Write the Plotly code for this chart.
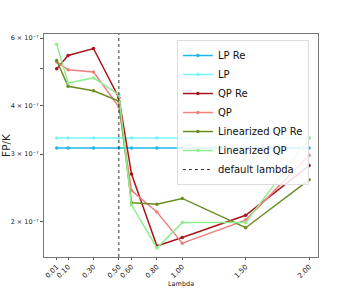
import plotly.graph_objects as go

lambdas = [0.01, 0.1, 0.3, 0.5, 0.6, 0.8, 1.0, 1.5, 2.0]
x_tick_labels = ["0.01", "0.10", "0.30", "0.50", "0.60", "0.80", "1.00", "1.50", "2.00"]

lp_re = [3.11e-7] * 9
lp = [3.30e-7] * 9
qp_re = [5.00e-7, 5.41e-7, 5.64e-7, 4.20e-7, 2.66e-7, 1.73e-7, 1.82e-7, 2.08e-7, 2.80e-7]
qp = [5.20e-7, 4.97e-7, 4.90e-7, 3.98e-7, 2.41e-7, 2.12e-7, 1.76e-7, 2.02e-7, 2.98e-7]
lin_qp_re = [5.25e-7, 4.50e-7, 4.38e-7, 4.12e-7, 2.24e-7, 2.22e-7, 2.30e-7, 1.93e-7, 2.57e-7]
lin_qp = [5.79e-7, 4.59e-7, 4.73e-7, 4.28e-7, 2.21e-7, 1.71e-7, 1.99e-7, 1.99e-7, 3.30e-7]
default_lambda = 0.5

y_tick_vals = [2e-7, 3e-7, 4e-7, 5e-7, 6e-7]
y_tick_text = ["2 × 10⁻⁷", "3 × 10⁻⁷", "4 × 10⁻⁷", "", "6 × 10⁻⁷"]

series = [
    ("LP Re", lp_re, "#1cb8ea", 1.0),
    ("LP", lp, "#5ff5f5", 0.85),
    ("QP Re", qp_re, "#a8161c", 1.0),
    ("QP", qp, "#f08080", 1.0),
    ("Linearized QP Re", lin_qp_re, "#6b8e23", 1.0),
    ("Linearized QP", lin_qp, "#90ee90", 1.0),
]

fig = go.Figure()
for name, vals, color, op in series:
    fig.add_trace(go.Scatter(
        x=lambdas, y=vals, name=name, mode="lines+markers",
        line=dict(color=color, width=1.5), marker=dict(color=color, size=3.5),
        opacity=op,
    ))

fig.add_trace(go.Scatter(
    x=[default_lambda, default_lambda], y=[0, 1], yaxis="y2", name="default lambda",
    mode="lines", line=dict(color="#333333", width=1, dash="dot"),
))

fig.update_layout(
    width=354, height=288,
    margin=dict(l=44, r=36, t=34, b=31),
    paper_bgcolor="white", plot_bgcolor="white",
    font=dict(family="DejaVu Sans", color="#222"),
    showlegend=True,
    legend=dict(
        x=0.485, y=0.973, xanchor="left", yanchor="top",
        bgcolor="rgba(255,255,255,0.85)", bordercolor="#dddddd", borderwidth=1,
        font=dict(size=10, family="DejaVu Sans", color="#111"),
        tracegroupgap=0, itemwidth=30,
    ),
    xaxis=dict(
        range=[-0.09, 2.07], tickvals=lambdas, ticktext=x_tick_labels,
        tickangle=-45, tickfont=dict(size=7), ticks="outside", ticklen=2,
        tickcolor="#555", showgrid=False, zeroline=False, automargin=False,
        showline=True, linecolor="#777", linewidth=1, mirror=True,
    ),
    yaxis=dict(
        type="log", range=[-6.7905, -6.211], tickvals=y_tick_vals, ticktext=y_tick_text,
        tickfont=dict(size=6.5), ticks="outside", ticklen=3, tickcolor="#555",
        showgrid=False, zeroline=False, automargin=False,
        showline=True, linecolor="#777", linewidth=1, mirror=True,
        title=dict(text="FP/K", font=dict(size=10.5), standoff=2),
    ),
    yaxis2=dict(overlaying="y", range=[0, 1], visible=False),
    annotations=[dict(
        text="Lambda", xref="paper", yref="paper", x=0.5, y=-0.12,
        xanchor="center", yanchor="middle", showarrow=False, borderpad=0,
        font=dict(size=6.5, color="#222"),
    )],
)

fig.write_html("out.html", config={"displayModeBar": False},
               post_script="document.body.style.margin='0';")
